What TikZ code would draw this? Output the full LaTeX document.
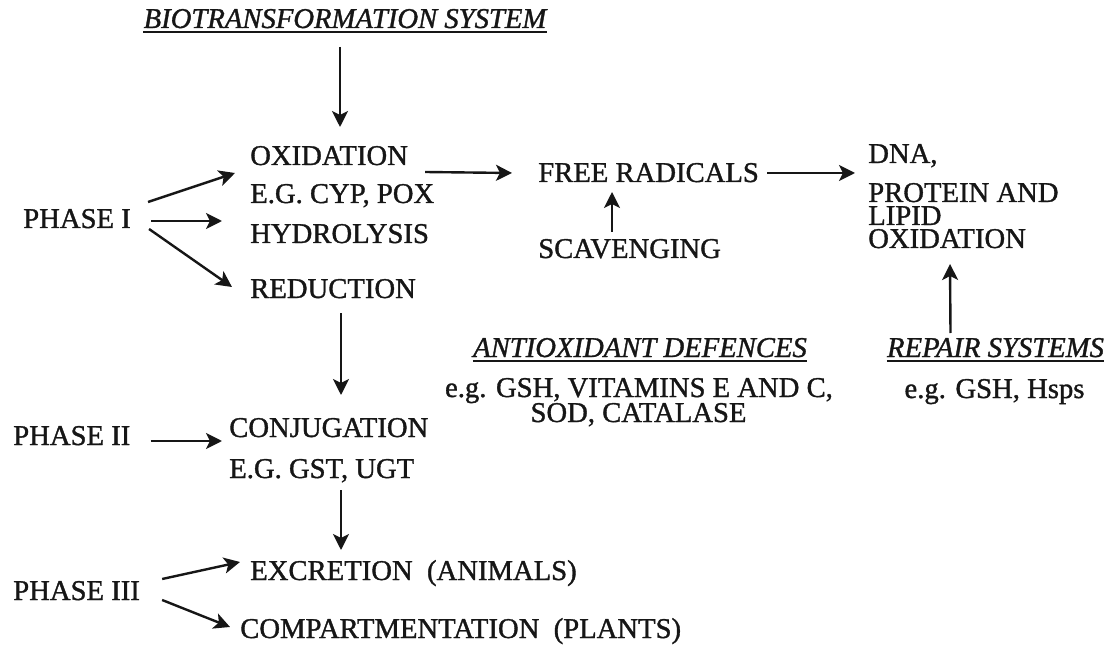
\documentclass[tikz,border=0pt]{standalone}
\usepackage{fontspec}
\setmainfont{Liberation Serif}[FakeBold=1.2]
\usetikzlibrary{arrows.meta}
\definecolor{diagink}{HTML}{161616}

\begin{document}
\begin{tikzpicture}[
  x=0.75pt,
  y=-0.75pt,
  every node/.style={font=\fontsize{21.5}{25}\selectfont, diagink, inner sep=0pt},
  term/.style={anchor=base west},
  note/.style={anchor=base},
  heading/.style={anchor=base, font=\fontsize{21.5}{25}\selectfont\itshape},
  rule/.style={diagink, line width=1.4pt},
  arr/.style={diagink, line width=1.8pt, -{Stealth[length=12pt, width=12pt, inset=3pt]}}
]
  % one unit is one pixel of the 1117 x 645 sheet, y running downwards
  \useasboundingbox (0,0) rectangle (1117,645);

  % ================= phase I ============================================
  \node[heading] (biosys) at (345,28) {BIOTRANSFORMATION SYSTEM};
  \draw[rule] ([yshift=-3pt]biosys.base west) -- ([yshift=-3pt]biosys.base east);

  \node[term] (phaseone) at (23,228) {PHASE I};
  \node[term] (oxid)     at (250,165) {OXIDATION};
  \node[term] (oxideg)   at (250,203) {E.G. CYP, POX};
  \node[term] (hydro)    at (250,243) {HYDROLYSIS};
  \node[term] (reduc)    at (250,298) {REDUCTION};

  \draw[arr] ([shift={(-5,19)}]biosys.base) -- ([shift={(90,-38)}]oxid.base west);
  \draw[arr] ([shift={(17,-26)}]phaseone.base east) -- ([shift={(-15,8)}]oxid.base west);
  \draw[arr] ([shift={(20,-7)}]phaseone.base east) -- ([shift={(-28,-22)}]hydro.base west);
  \draw[arr] ([shift={(18,1)}]phaseone.base east) -- ([shift={(-18,-11)}]reduc.base west);

  % ================= oxidative damage ===================================
  \node[term] (radicals) at (538,182) {FREE RADICALS};
  \node[term] (scaveng)  at (538,258) {SCAVENGING};
  \node[term] (dna)      at (868,163) {DNA,};
  \node[term] (protein)  at (868,202) {PROTEIN AND};
  \node[term] (lipid)    at (868,225) {LIPID};
  \node[term] (lipidox)  at (868,248) {OXIDATION};

  \draw[arr] ([shift={(17,7)}]oxid.base east) -- ([shift={(-26,-9)}]radicals.base west);
  \draw[arr] ([shift={(8,-9)}]radicals.base east) -- ([shift={(-13,10)}]dna.base west);
  \draw[arr] ([shift={(74,-26)}]scaveng.base west) -- ([shift={(74,10)}]radicals.base west);

  % ================= defences ===========================================
  \node[heading] (antiox) at (640,357) {ANTIOXIDANT DEFENCES};
  \draw[rule] ([yshift=-3pt]antiox.base west) -- ([yshift=-3pt]antiox.base east);
  \node[note] (antioxeg) at (639,397) {e.g. GSH, VITAMINS E AND C,};
  \node[note] (antioxsod) at (638.5,422) {SOD, CATALASE};

  \node[heading] (repair) at (995.5,357) {REPAIR SYSTEMS};
  \draw[rule] ([yshift=-3pt]repair.base west) -- ([yshift=-3pt]repair.base east);
  \node[note] (repaireg) at (994.5,398) {e.g. GSH, Hsps};

  \draw[arr] ([shift={(-45,-24)}]repair.base) -- ([shift={(82,16)}]lipidox.base west);

  % ================= phases II and III ==================================
  \node[term] (phasetwo)   at (13,445) {PHASE II};
  \node[term] (conjug)     at (229,437) {CONJUGATION};
  \node[term] (conjugeg)   at (229,478) {E.G. GST, UGT};
  \node[term] (phasethree) at (13,600) {PHASE III};
  \node[term] (excret)     at (250,580) {EXCRETION~~(ANIMALS)};
  \node[term] (compart)    at (240,638) {COMPARTMENTATION~~(PLANTS)};

  \draw[arr] ([shift={(91,15)}]reduc.base west) -- ([shift={(112,-42)}]conjug.base west);
  \draw[arr] ([shift={(20,-4)}]phasetwo.base east) -- ([shift={(-7,4)}]conjug.base west);
  \draw[arr] ([shift={(112,12)}]conjugeg.base west) -- ([shift={(91,-30)}]excret.base west);
  \draw[arr] ([shift={(22,-21)}]phasethree.base east) -- ([shift={(-10,-18)}]excret.base west);
  \draw[arr] ([shift={(22,0)}]phasethree.base east) -- ([shift={(-10,-11)}]compart.base west);
\end{tikzpicture}
\end{document}
